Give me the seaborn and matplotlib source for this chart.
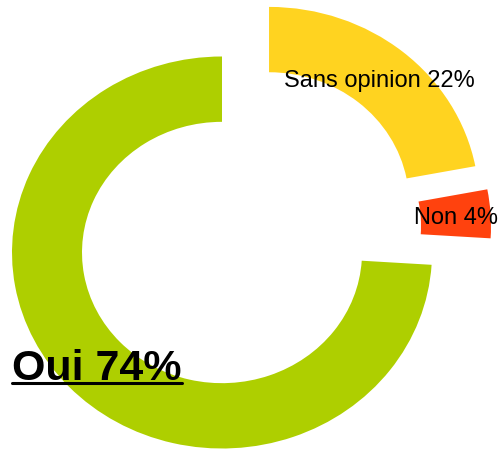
import matplotlib
matplotlib.use("Agg")
import matplotlib.pyplot as plt
from matplotlib.lines import Line2D
import seaborn as sns

# data
labels = ["Oui", "Non", "Sans opinion"]
shares = [74, 4, 22]
colors = ["#aecf00", "#ff420e", "#ffd320"]

# slice offsets (data units, radius = 1) as seen in the reference
offsets = [(0.0, 0.0), (0.281, 0.135), (0.224, 0.253)]

sns.set_theme(style="white")
plt.rcParams["font.family"] = ["Liberation Sans", "DejaVu Sans"]

fig = plt.figure(figsize=(4.98, 4.5), dpi=100)
ax = fig.add_axes([0, 0, 1, 1])

wedges, _ = ax.pie(shares, colors=colors, startangle=90, counterclock=True,
                   wedgeprops=dict(width=1 / 3, linewidth=0))
for w, (dx, dy) in zip(wedges, offsets):
    cx, cy = w.center
    w.set_center((cx + dx, cy + dy))

# slightly squashed ellipse like the original
ax.set_aspect("auto")
ax.set_xlim(-222 / 210, (498 - 222) / 210)
ax.set_ylim(-197.5 / 196, 252.5 / 196)
ax.axis("off")

ax.text(0.748, 0.843, f"{labels[2]} {shares[2]}%", ha="center", va="baseline",
        fontsize=17, color="black")
ax.text(1.114, 0.145, f"{labels[1]} {shares[1]}%", ha="center", va="baseline",
        fontsize=17, color="black")
oui = ax.text(-1.0, -0.65, f"{labels[0]} {shares[0]}%", ha="left", va="baseline",
              fontsize=31, fontweight="bold", color="black")

# underline for the main label
fig.canvas.draw()
bb = oui.get_window_extent()
base_y = ax.transData.transform((0, -0.65))[1]
uy = base_y - 3
fig.add_artist(Line2D([bb.x0 / fig.bbox.width, bb.x1 / fig.bbox.width],
                      [uy / fig.bbox.height, uy / fig.bbox.height],
                      color="black", linewidth=2.2))

fig.savefig("out.png", dpi=100)
